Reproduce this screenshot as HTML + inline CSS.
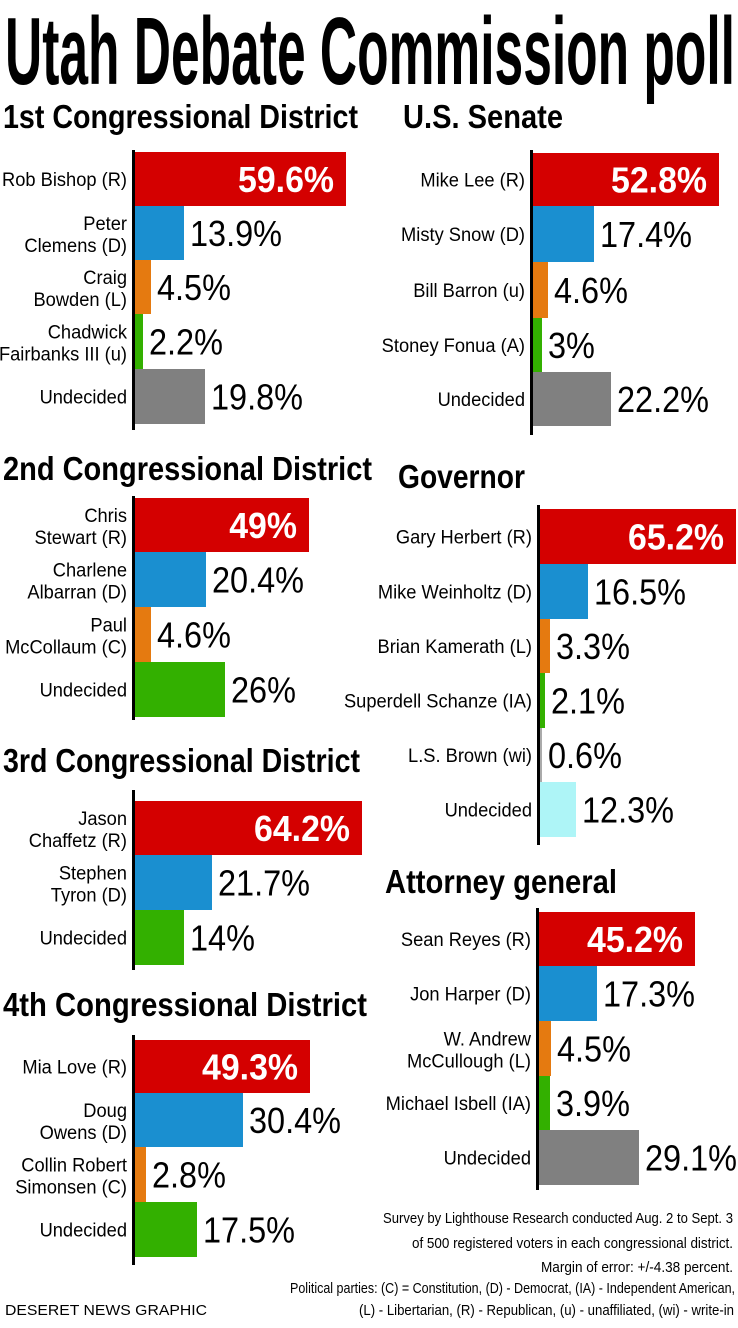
<!DOCTYPE html>
<html><head><meta charset="utf-8"><style>
html,body{margin:0;padding:0;background:#fff;}
svg{display:block;}
text{font-family:"Liberation Sans Narrow","Liberation Sans",sans-serif;}
</style></head><body>
<svg id="s" width="738" height="1328" viewBox="0 0 738 1328" xmlns="http://www.w3.org/2000/svg">
<rect width="738" height="1328" fill="#fff"/>
<text x="5" y="84" font-size="96" font-weight="bold" textLength="730" lengthAdjust="spacingAndGlyphs">Utah Debate Commission poll</text>
</svg>
<script>
var s=document.getElementById('s'),NS='http://www.w3.org/2000/svg';
function el(t,a,txt){var e=document.createElementNS(NS,t);for(var k in a)e.setAttribute(k,a[k]);if(txt!=null)e.textContent=txt;s.appendChild(e);return e;}
function nat(txt,size,bold){var e=el('text',{x:0,y:-100,'font-size':size,'font-weight':bold?'bold':'normal'},txt);var w=e.getComputedTextLength();s.removeChild(e);return w;}
function T(x,y,size,txt,w,opt){opt=opt||{};var a={x:x,y:y,'font-size':size,fill:opt.fill||'#000'};
 if(opt.bold)a['font-weight']='bold';if(opt.anchor)a['text-anchor']=opt.anchor;
 if(w){a.textLength=w;a.lengthAdjust='spacingAndGlyphs';}el('text',a,txt);}
var LK=125/nat('Rob Bishop (R)',19), VK=92/nat('13.9%',36), BK=96/nat('59.6%',36,1);
function LW(t){return nat(t,19)*LK;}
var C={r:'#d40000',b:'#1a8fd0',o:'#e57a10',g:'#33b000',k:'#808080',c:'#aef5f7',w:'#aaaaaa'};
function sec(h,hx,hy,hw,ax,ay1,ay2,bars){
 T(hx,hy,33,h,hw,{bold:1});
 el('rect',{x:ax-1,y:ay1,width:3,height:ay2-ay1,fill:'#000'});
 bars.forEach(function(b,i){
  var y1=b[0],y2=b[1],x2=b[2],col=C[b[3]],lab=b[4],val=b[5];
  el('rect',{x:ax+2,y:y1,width:Math.max(x2-ax-2,2),height:y2-y1,fill:col});
  var cy=(y1+y2)/2;
  if(lab.length==1){T(ax-6,cy+7,19,lab[0],LW(lab[0]),{anchor:'end'});}
  else{T(ax-6,cy-3,19,lab[0],LW(lab[0]),{anchor:'end'});T(ax-6,cy+19,19,lab[1],LW(lab[1]),{anchor:'end'});}
  if(i==0)T(x2-12,cy+13,36,val,nat(val,36,1)*BK,{bold:1,fill:'#fff',anchor:'end'});
  else T(x2+6,cy+13,36,val,nat(val,36)*VK);
 });
}
sec('1st Congressional District',3,128,355,133,150,430,[
 [152,206,346,'r',['Rob Bishop (R)'],'59.6%'],
 [206,260,184,'b',['Peter','Clemens (D)'],'13.9%'],
 [260,314,151,'o',['Craig','Bowden (L)'],'4.5%'],
 [314,369,143,'g',['Chadwick','Fairbanks III (u)'],'2.2%'],
 [369,424,205,'k',['Undecided'],'19.8%']]);
sec('U.S. Senate',403,128,160,531,150,435,[
 [153,206,719,'r',['Mike Lee (R)'],'52.8%'],
 [206,262,594,'b',['Misty Snow (D)'],'17.4%'],
 [262,318,548,'o',['Bill Barron (u)'],'4.6%'],
 [318,372,542,'g',['Stoney Fonua (A)'],'3%'],
 [372,426,611,'k',['Undecided'],'22.2%']]);
sec('2nd Congressional District',3,480,369,133,496,720,[
 [498,552,309,'r',['Chris','Stewart (R)'],'49%'],
 [552,607,206,'b',['Charlene','Albarran (D)'],'20.4%'],
 [607,662,151,'o',['Paul','McCollaum (C)'],'4.6%'],
 [662,717,225,'g',['Undecided'],'26%']]);
sec('Governor',398,488,127,538,505,845,[
 [509,564,736,'r',['Gary Herbert (R)'],'65.2%'],
 [564,619,588,'b',['Mike Weinholtz (D)'],'16.5%'],
 [619,673,550,'o',['Brian Kamerath (L)'],'3.3%'],
 [673,728,545,'g',['Superdell Schanze (IA)'],'2.1%'],
 [728,782,542,'w',['L.S. Brown (wi)'],'0.6%'],
 [782,837,576,'c',['Undecided'],'12.3%']]);
sec('3rd Congressional District',3,772,357,133,790,970,[
 [801,855,362,'r',['Jason','Chaffetz (R)'],'64.2%'],
 [855,910,212,'b',['Stephen','Tyron (D)'],'21.7%'],
 [910,965,184,'g',['Undecided'],'14%']]);
sec('Attorney general',385,893,232,537,908,1190,[
 [912,966,695,'r',['Sean Reyes (R)'],'45.2%'],
 [966,1021,597,'b',['Jon Harper (D)'],'17.3%'],
 [1021,1076,551,'o',['W. Andrew','McCullough (L)'],'4.5%'],
 [1076,1130,550,'g',['Michael Isbell (IA)'],'3.9%'],
 [1130,1185,639,'k',['Undecided'],'29.1%']]);
sec('4th Congressional District',3,1016,364,133,1035,1265,[
 [1040,1093,310,'r',['Mia Love (R)'],'49.3%'],
 [1093,1147,243,'b',['Doug','Owens (D)'],'30.4%'],
 [1147,1202,146,'o',['Collin Robert','Simonsen (C)'],'2.8%'],
 [1202,1257,197,'g',['Undecided'],'17.5%']]);
T(383,1223,15,'Survey by Lighthouse Research conducted Aug. 2 to Sept. 3',350);
T(412,1248,15,'of 500 registered voters in each congressional district.',321);
T(541,1272,15,'Margin of error: +/-4.38 percent.',192);
T(290,1293,15,'Political parties: (C) = Constitution, (D) - Democrat, (IA) - Independent American,',445);
T(359,1315,15,'(L) - Libertarian, (R) - Republican, (u) - unaffiliated, (wi) - write-in',375);
T(5,1315,15,'DESERET NEWS GRAPHIC',202);
</script>
</body></html>
